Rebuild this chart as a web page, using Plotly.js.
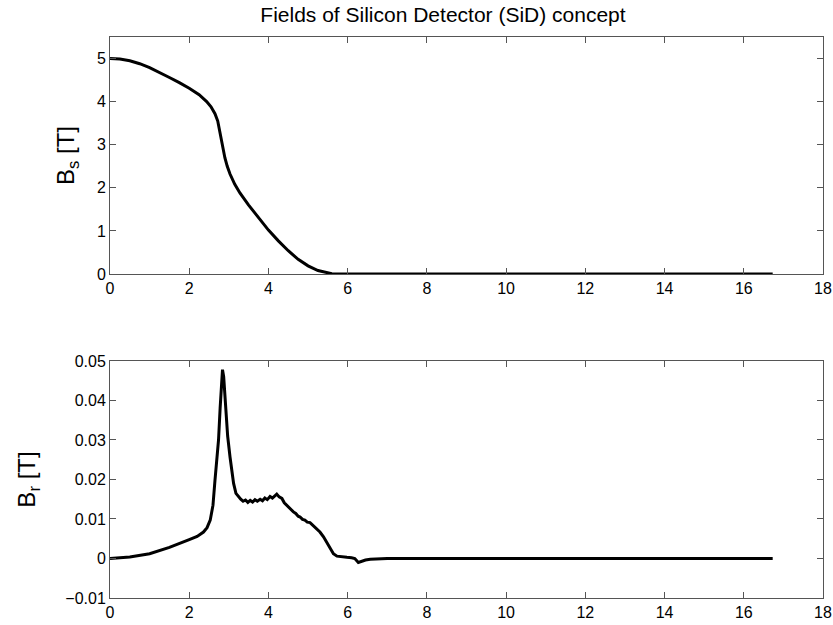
<!DOCTYPE html>
<html>
<head>
<meta charset="utf-8">
<script src="https://cdn.plot.ly/plotly-3.0.1.min.js"></script>
<style>html,body{margin:0;padding:0;background:#fff;}#chart{width:833px;height:625px;}</style>
</head>
<body>
<div id="chart"></div>
<script>
// Top panel: longitudinal field Bs [T] vs z
const zS = [0, 0.25, 0.5, 0.75, 1.0, 1.25, 1.5, 1.75, 2.0, 2.25, 2.44, 2.55, 2.65, 2.72, 2.78, 2.84, 2.9, 2.96, 3.03, 3.15, 3.28, 3.5, 3.79, 4.0, 4.25, 4.5, 4.75, 5.0, 5.25, 5.45, 5.6, 5.8, 6.0, 7, 8, 9, 10, 11, 12, 13, 14, 15, 16, 16.73];
const bS = [5.0, 4.99, 4.95, 4.88, 4.79, 4.68, 4.56, 4.44, 4.31, 4.16, 4.0, 3.88, 3.72, 3.55, 3.25, 2.95, 2.7, 2.5, 2.32, 2.08, 1.88, 1.6, 1.25, 1.02, 0.77, 0.54, 0.34, 0.19, 0.08, 0.03, 0.008, 0.002, 0.0, 0, 0, 0, 0, 0, 0, 0, 0, 0, 0, 0];

// Bottom panel: radial field Br [T] vs z
const zR = [0, 0.5, 1.0, 1.5, 2.0, 2.2, 2.36, 2.45, 2.53, 2.6, 2.65, 2.7, 2.74, 2.78, 2.82, 2.84, 2.87, 2.92, 2.97, 3.03, 3.08, 3.12, 3.18, 3.24, 3.3, 3.36, 3.42, 3.48, 3.54, 3.6, 3.66, 3.72, 3.79, 3.85, 3.91, 3.97, 4.04, 4.1, 4.16, 4.21, 4.27, 4.34, 4.4, 4.46, 4.52, 4.58, 4.63, 4.69, 4.75, 4.8, 4.86, 4.92, 4.98, 5.05, 5.12, 5.18, 5.22, 5.3, 5.39, 5.47, 5.56, 5.64, 5.73, 5.85, 5.98, 6.1, 6.18, 6.27, 6.35, 6.45, 6.57, 7, 8, 9, 10, 11, 12, 13, 14, 15, 16, 16.73];
const bR = [0, 0.0004, 0.0012, 0.0028, 0.0048, 0.0056, 0.0067, 0.0078, 0.0097, 0.0135, 0.0198, 0.026, 0.030, 0.038, 0.0465, 0.0478, 0.046, 0.038, 0.031, 0.0257, 0.0215, 0.019, 0.0165, 0.0156, 0.015, 0.0145, 0.0148, 0.0142, 0.0147, 0.0143, 0.0149, 0.0145, 0.0150, 0.0146, 0.0153, 0.0149, 0.0157, 0.0153, 0.0160, 0.0163, 0.0156, 0.0152, 0.0141, 0.0135, 0.0128, 0.0124, 0.0118, 0.0114, 0.0107, 0.0105, 0.0099, 0.0097, 0.0092, 0.0091, 0.0084, 0.0078, 0.0076, 0.0067, 0.0055, 0.0041, 0.0025, 0.0012, 0.0006, 0.0004, 0.0003, 0.0002, 0.0, -0.001, -0.0007, -0.0004, -0.0002, 0, 0, 0, 0, 0, 0, 0, 0, 0, 0, 0];

const titleText = 'Fields of Silicon Detector (SiD) concept';
const xTicks = [0, 2, 4, 6, 8, 10, 12, 14, 16, 18];
const yTicksTop = [0, 1, 2, 3, 4, 5];
const yTicksBottom = [-0.01, 0, 0.01, 0.02, 0.03, 0.04, 0.05];
const yTickTextBottom = ['\u22120.01', '0', '0.01', '0.02', '0.03', '0.04', '0.05'];

const lineStyle = {color: '#000', width: 3};
const sans = 'Liberation Sans, Arial, Helvetica, sans-serif';
const tickFont = {family: sans, size: 16, color: '#000'};
const axisCommon = {
  showgrid: false, zeroline: false, showline: true, linecolor: '#555', linewidth: 1,
  ticks: 'inside', ticklen: 6, tickcolor: '#555', tickwidth: 1, mirror: 'ticks',
  tickfont: tickFont
};

const traces = [
  {x: zS, y: bS, type: 'scatter', mode: 'lines', line: lineStyle, xaxis: 'x', yaxis: 'y', hoverinfo: 'skip'},
  {x: zR, y: bR, type: 'scatter', mode: 'lines', line: lineStyle, xaxis: 'x2', yaxis: 'y2', hoverinfo: 'skip'}
];

const layout = {
  width: 833, height: 625,
  margin: {l: 110, r: 10, t: 37, b: 27},
  paper_bgcolor: '#fff', plot_bgcolor: '#fff',
  showlegend: false,
  title: {text: titleText, x: 0.467, xref: 'paper', xanchor: 'center', y: 1 - 15/625, yref: 'container', yanchor: 'middle',
          font: {family: sans, size: 21, color: '#000'}},
  xaxis: Object.assign({}, axisCommon, {range: [0, 18], tickvals: xTicks, anchor: 'y', domain: [0, 1]}),
  yaxis: Object.assign({}, axisCommon, {range: [0, 5.5], tickvals: yTicksTop, anchor: 'x', domain: [0.5775, 1],
          title: {text: 'B<sub>s</sub> [T]', font: {family: sans, size: 24, color: '#000'}, standoff: 15}}),
  xaxis2: Object.assign({}, axisCommon, {range: [0, 18], tickvals: xTicks, anchor: 'y2', domain: [0, 1]}),
  yaxis2: Object.assign({}, axisCommon, {range: [-0.01, 0.05], tickvals: yTicksBottom, ticktext: yTickTextBottom, anchor: 'x2', domain: [0, 0.4225],
          title: {text: 'B<sub>r</sub> [T]', font: {family: sans, size: 24, color: '#000'}, standoff: 22}})
};

Plotly.newPlot('chart', traces, layout, {staticPlot: true, displayModeBar: false});
</script>
</body>
</html>
